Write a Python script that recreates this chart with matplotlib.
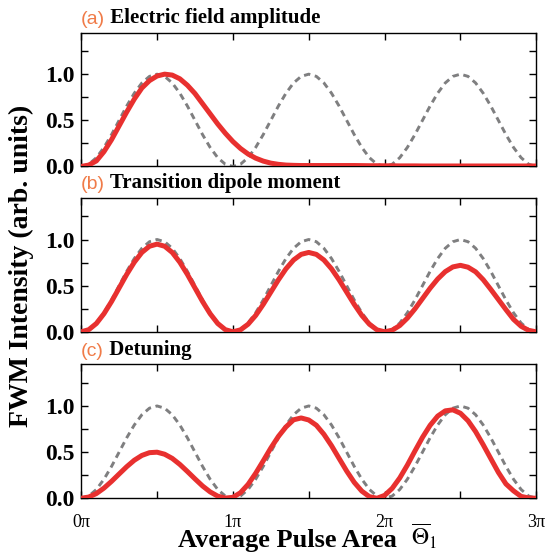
import numpy as np
import matplotlib
matplotlib.use("Agg")
import matplotlib.pyplot as plt
from matplotlib.ticker import MultipleLocator, FixedLocator

plt.rcParams["font.family"] = ["Liberation Serif", "DejaVu Serif"]
plt.rcParams["mathtext.fontset"] = "stix"

# pulse area in units of pi, sampled every 0.05 pi
theta = np.linspace(0, 3, 61)

# reference curve (grey dashed), same in all panels
ref_curve = [
    0.000, 0.024, 0.095, 0.206, 0.345, 0.500, 0.655, 0.794, 0.905, 0.976,
    1.000, 0.976, 0.905, 0.794, 0.655, 0.500, 0.345, 0.206, 0.095, 0.024,
    0.000, 0.024, 0.095, 0.206, 0.345, 0.500, 0.655, 0.794, 0.905, 0.976,
    1.000, 0.976, 0.905, 0.794, 0.655, 0.500, 0.345, 0.206, 0.095, 0.024,
    0.000, 0.024, 0.095, 0.206, 0.345, 0.500, 0.655, 0.794, 0.905, 0.976,
    1.000, 0.976, 0.905, 0.794, 0.655, 0.500, 0.345, 0.206, 0.095, 0.024,
    0.000,
]

# (a) electric field amplitude
field_amp = [
    0.000, 0.015, 0.060, 0.160, 0.290, 0.440, 0.590, 0.730, 0.850, 0.930,
    0.980, 1.000, 0.990, 0.950, 0.880, 0.790, 0.680, 0.570, 0.460, 0.360,
    0.270, 0.195, 0.135, 0.090, 0.058, 0.036, 0.023, 0.015, 0.012, 0.010,
    0.010, 0.010, 0.010, 0.010, 0.010, 0.010, 0.010, 0.009, 0.008, 0.008,
    0.007, 0.007, 0.006, 0.006, 0.006, 0.005, 0.005, 0.005, 0.005, 0.005,
    0.005, 0.005, 0.005, 0.005, 0.005, 0.005, 0.005, 0.005, 0.005, 0.005,
    0.005,
]

# (b) transition dipole moment
dipole = [
    0.000, 0.023, 0.090, 0.196, 0.328, 0.475, 0.622, 0.754, 0.860, 0.927,
    0.950, 0.927, 0.860, 0.754, 0.622, 0.475, 0.328, 0.196, 0.090, 0.023,
    0.000, 0.021, 0.082, 0.177, 0.297, 0.430, 0.563, 0.683, 0.778, 0.839,
    0.860, 0.839, 0.778, 0.683, 0.563, 0.430, 0.297, 0.177, 0.082, 0.021,
    0.000, 0.017, 0.068, 0.148, 0.248, 0.360, 0.472, 0.572, 0.652, 0.703,
    0.720, 0.700, 0.650, 0.565, 0.460, 0.350, 0.240, 0.135, 0.060, 0.015,
    0.000,
]

# (c) detuning
detuning = [
    0.000, 0.013, 0.051, 0.110, 0.183, 0.263, 0.342, 0.412, 0.464, 0.494,
    0.499, 0.477, 0.432, 0.367, 0.290, 0.210, 0.133, 0.069, 0.023, 0.002,
    0.010, 0.060, 0.150, 0.270, 0.405, 0.544, 0.670, 0.773, 0.850, 0.870,
    0.848, 0.791, 0.693, 0.570, 0.432, 0.295, 0.172, 0.077, 0.017, 0.000,
    0.031, 0.107, 0.220, 0.359, 0.512, 0.660, 0.790, 0.890, 0.947, 0.958,
    0.921, 0.840, 0.722, 0.580, 0.430, 0.281, 0.155, 0.080, 0.020, 0.003,
    0.000,
]

panel_tags = ["(a)", "(b)", "(c)"]
panel_titles = ["Electric field amplitude", "Transition dipole moment", "Detuning"]
panel_data = [field_amp, dipole, detuning]
x_ticklabels = ["0\u03c0", "1\u03c0", "2\u03c0", "3\u03c0"]

RED = "#e8302f"
GREY = "#7f7f80"
ORANGE = "#f07b48"

fig = plt.figure(figsize=(5.45, 5.53), dpi=100)

left, width, height = 0.149, 0.835, 0.242
bottoms = [0.699, 0.400, 0.099]

for i, (bottom, y) in enumerate(zip(bottoms, panel_data)):
    ax = fig.add_axes([left, bottom, width, height])
    ax.plot(theta, ref_curve, color=GREY, lw=2.1, dashes=(2.2, 1.6), zorder=2)
    ax.plot(theta, y, color=RED, lw=3.6, solid_capstyle="butt", zorder=3)

    ax.set_xlim(0, 3)
    ax.set_ylim(0, 1.45)

    ax.xaxis.set_major_locator(MultipleLocator(1))
    ax.xaxis.set_minor_locator(MultipleLocator(0.5))
    ax.yaxis.set_major_locator(FixedLocator([0, 0.5, 1.0]))
    ax.yaxis.set_minor_locator(MultipleLocator(0.25))
    ax.tick_params(which="both", direction="in", top=True, right=True,
                   width=1.0, length=5)
    ax.tick_params(axis="y", labelsize=17, pad=5)
    ax.set_yticklabels(["0.0", "0.5", "1.0"], fontweight="bold")

    if i < 2:
        ax.set_xticklabels([])
    else:
        ax.set_xticks([0, 1, 2, 3])
        ax.set_xticklabels(x_ticklabels, fontsize=13)
        ax.tick_params(axis="x", pad=11)

    for sp in ax.spines.values():
        sp.set_linewidth(1.0)

    tag = ax.text(0.0, 1.035, panel_tags[i], transform=ax.transAxes,
                  fontsize=14, color=ORANGE, family=["Liberation Sans", "DejaVu Sans"],
                  ha="left", va="bottom")
    ax.annotate(" " + panel_titles[i], xy=(1, 0), xycoords=tag,
                fontsize=15, fontweight="bold", ha="left", va="bottom")

fig.text(0.04, 0.099 + (0.699 + 0.242 - 0.099) / 2, "FWM Intensity (arb. units)",
         rotation=90, fontsize=20, fontweight="bold", ha="center", va="center")

fig.text(178 / 545, 1 - 547 / 553, "Average Pulse Area",
         fontsize=19, fontweight="bold", ha="left", va="baseline")
fig.text(411 / 545, 1 - 546 / 553, r"$\overline{\Theta}_{1}$",
         fontsize=17, ha="left", va="baseline")

fig.savefig("out.png", dpi=100)
